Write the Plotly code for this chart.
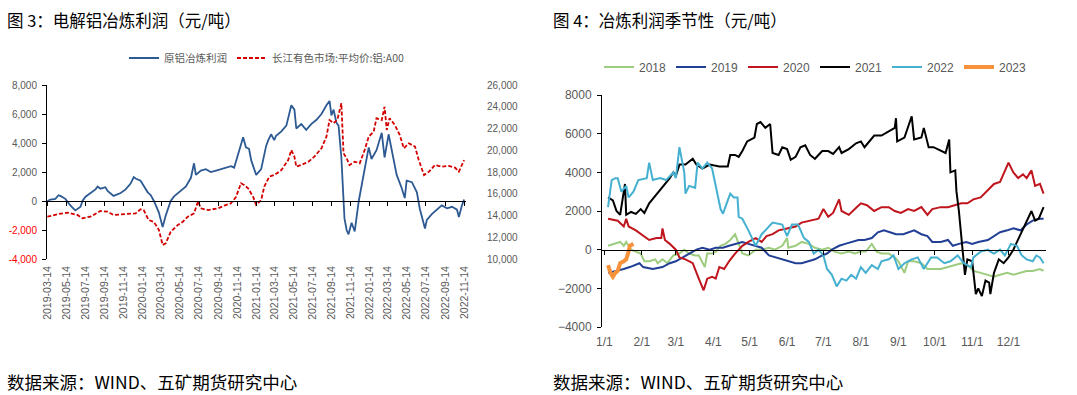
import plotly.graph_objects as go

W, H = 1077, 395
CJK = "Noto Sans CJK SC"
NUM = "Liberation Sans"
GRAY = "#595959"

# ---------------- Left chart data ----------------
profit_dates = [
    "2019-03-14", "2019-03-24", "2019-04-09", "2019-04-19", "2019-04-25", "2019-05-11", "2019-05-27", "2019-06-12",
    "2019-06-29", "2019-07-05", "2019-07-15", "2019-07-31", "2019-08-16", "2019-08-23", "2019-09-01", "2019-09-17",
    "2019-09-24", "2019-10-13", "2019-10-20", "2019-11-05", "2019-11-21", "2019-12-07", "2019-12-17", "2019-12-23",
    "2020-01-08", "2020-01-25", "2020-01-31", "2020-02-10", "2020-02-20", "2020-03-07", "2020-03-19", "2020-03-29",
    "2020-04-05", "2020-04-14", "2020-04-24", "2020-05-17", "2020-06-02", "2020-06-18", "2020-06-28", "2020-07-04",
    "2020-07-20", "2020-08-05", "2020-08-21", "2020-09-07", "2020-09-23", "2020-10-15", "2020-10-25", "2020-11-04",
    "2020-11-17", "2020-12-03", "2020-12-12", "2020-12-22", "2020-12-29", "2021-01-14", "2021-01-30", "2021-02-15",
    "2021-02-22", "2021-03-03", "2021-03-13", "2021-03-19", "2021-04-05", "2021-04-21", "2021-05-07", "2021-05-17",
    "2021-05-23", "2021-06-08", "2021-06-24", "2021-07-10", "2021-07-27", "2021-08-12", "2021-08-28", "2021-09-07",
    "2021-09-13", "2021-09-20", "2021-09-29", "2021-10-06", "2021-10-15", "2021-10-22", "2021-10-25", "2021-11-01",
    "2021-11-07", "2021-11-17", "2021-11-27", "2021-12-10", "2021-12-26", "2022-01-11", "2022-01-20", "2022-02-05",
    "2022-02-22", "2022-03-03", "2022-03-16", "2022-03-26", "2022-04-05", "2022-04-11", "2022-04-27", "2022-05-07",
    "2022-05-13", "2022-05-30", "2022-06-15", "2022-06-24", "2022-07-11", "2022-07-17", "2022-08-02", "2022-08-18",
    "2022-09-03", "2022-09-20", "2022-10-06", "2022-10-22", "2022-10-28", "2022-11-07", "2022-11-14",
]
profit_values = [
    0, 100, 150, 400, 350, 150, -300, -650,
    -400, 0, 300, 550, 800, 1000, 850, 950,
    700, 350, 400, 550, 800, 1200, 1650, 1550,
    1400, 800, 600, 400, 0, -800, -1800, -1000,
    -500, 0, 300, 700, 1000, 1600, 2600, 1800,
    2100, 2200, 2000, 2100, 2200, 2300, 2400, 2300,
    3200, 4400, 3700, 3600, 2800, 1800, 2200, 3800,
    4200, 4600, 4200, 4500, 4800, 5200, 6600, 6300,
    5000, 5300, 4900, 5300, 5600, 6000, 6600, 6900,
    5900, 6300, 5400, 5200, 3000, -300, -1200, -2000,
    -2300, -1500, -2100, 0, 2000, 3700, 2900, 3500,
    4700, 3000, 4600, 3600, 2500, 1800, 900, 200,
    1400, 1300, 600, -500, -1900, -1300, -900, -600,
    -300, -500, -400, -600, -1100, -300, 100,
]

price_dates = [
    "2019-03-14", "2019-04-19", "2019-05-18", "2019-06-19", "2019-07-05", "2019-07-31", "2019-09-01", "2019-09-24",
    "2019-10-13", "2019-11-27", "2019-12-23", "2020-01-08", "2020-01-18", "2020-02-03", "2020-02-20", "2020-03-07",
    "2020-03-19", "2020-03-29", "2020-04-14", "2020-05-07", "2020-05-23", "2020-06-08", "2020-06-28", "2020-07-11",
    "2020-07-20", "2020-08-12", "2020-09-13", "2020-10-03", "2020-10-25", "2020-11-10", "2020-11-26", "2020-12-06",
    "2020-12-19", "2021-01-04", "2021-01-14", "2021-01-30", "2021-02-09", "2021-02-25", "2021-03-13", "2021-04-05",
    "2021-04-27", "2021-05-07", "2021-05-17", "2021-05-23", "2021-06-08", "2021-07-01", "2021-07-20", "2021-08-12",
    "2021-08-28", "2021-09-07", "2021-09-20", "2021-10-02", "2021-10-15", "2021-10-22", "2021-11-01", "2021-11-10",
    "2021-11-27", "2021-12-13", "2021-12-29", "2022-01-11", "2022-01-27", "2022-02-05", "2022-02-22", "2022-03-03",
    "2022-03-10", "2022-03-19", "2022-04-05", "2022-04-21", "2022-05-04", "2022-05-20", "2022-06-09", "2022-06-21",
    "2022-07-08", "2022-07-24", "2022-08-12", "2022-09-03", "2022-09-26", "2022-10-16", "2022-10-28", "2022-11-14",
]
price_values = [
    13890, 14140, 14260, 14050, 13740, 13900, 14420, 14350,
    14050, 14150, 14200, 14570, 14500, 13590, 13400, 12670,
    11290, 11440, 12510, 13130, 13430, 13890, 14200, 15300,
    14660, 14500, 14660, 14900, 15120, 15700, 16960, 16800,
    16500, 15730, 14970, 15420, 16650, 17570, 17720, 18180,
    19100, 20020, 19410, 18490, 18640, 18950, 19410, 20180,
    21250, 22780, 22500, 22800, 24320, 19720, 19260, 18640,
    18950, 18800, 20020, 21250, 21710, 22940, 22780, 24000,
    21860, 22940, 22330, 21400, 20180, 20640, 20330, 19100,
    17720, 18030, 18640, 18490, 18560, 18400, 18030, 19100,
]

left_ticks = [
    "2019-03-14", "2019-05-14", "2019-07-14", "2019-09-14", "2019-11-14", "2020-01-14", "2020-03-14", "2020-05-14",
    "2020-07-14", "2020-09-14", "2020-11-14", "2021-01-14", "2021-03-14", "2021-05-14", "2021-07-14", "2021-09-14",
    "2021-11-14", "2022-01-14", "2022-03-14", "2022-05-14", "2022-07-14", "2022-09-14", "2022-11-14",
]
left_y_ticks = [-4000, -2000, 0, 2000, 4000, 6000, 8000]
left_y_text = ['<span style="color:#ff0000">-4,000</span>', '<span style="color:#ff0000">-2,000</span>',
               "0", "2,000", "4,000", "6,000", "8,000"]
right_axis_ticks = [10000, 12000, 14000, 16000, 18000, 20000, 22000, 24000, 26000]
right_axis_text = ["10,000", "12,000", "14,000", "16,000", "18,000", "20,000", "22,000", "24,000", "26,000"]

# ---------------- Right chart data (day of year) ----------------
d2018 = [3, 9, 13, 16, 18, 22, 26, 30, 33, 37, 42, 44, 48, 52, 57, 62, 66, 70, 75, 78,
         83, 85, 89, 92, 96, 100, 104, 108, 111, 114, 119, 125, 130, 136, 141, 147, 151, 152, 158, 163,
         169, 174, 180, 185, 190, 196, 202, 207, 212, 216, 221, 225, 229, 235, 240, 243, 248, 251, 256, 262,
         267, 272, 278, 284, 289, 295, 300, 305, 311, 317, 322, 327, 333, 338, 344, 349, 354, 360, 363]
v2018 = [200, 300, 400, 200, 400, 0, -100, -200, -600, -600, -500, -700, -500, -700, -300, -200, 0, -200, -300, -300,
         -900, -200, -200, -100, 200, 300, 500, 800, 300, -200, -300, 0, 0, 100, 0, 200, 600, 100, 200, 400,
         300, 100, 0, 100, -100, -200, -100, -200, -100, -100, 300, -100, -200, -200, -400, -600, -1200, -600, -600, -700,
         -1000, -1000, -1000, -900, -800, -700, -800, -1100, -1200, -1300, -1400, -1300, -1200, -1300, -1200, -1100, -1100, -1000, -1100]

d2019 = [3, 10, 16, 21, 26, 29, 32, 40, 48, 54, 59, 65, 70, 76, 81, 87, 92, 98, 103, 108,
         114, 119, 125, 130, 136, 141, 147, 152, 158, 163, 169, 174, 180, 184, 188, 194, 199, 204, 210, 215,
         221, 226, 231, 236, 241, 247, 252, 256, 262, 267, 271, 278, 284, 288, 293, 299, 304, 309, 317, 322,
         327, 333, 338, 344, 349, 354, 359, 363]
v2019 = [-1200, -1100, -1000, -900, -800, -700, -900, -1000, -900, -700, -600, -400, -200, 0, 100, 0, 100, 100, 200, 300,
         400, 300, 200, 100, -300, -400, -500, -600, -700, -700, -600, -500, -300, -200, 0, 200, 300, 400, 500, 500,
         600, 900, 1000, 900, 800, 800, 900, 1000, 800, 700, 400, 400, 500, 200, 300, 400, 300, 400, 500, 700,
         900, 1000, 1100, 1000, 1300, 1500, 1600, 1600]

d2020 = [3, 11, 16, 18, 20, 26, 37, 43, 47, 48, 50, 54, 59, 62, 67, 73, 78, 82, 85, 89,
         92, 95, 99, 103, 108, 114, 119, 125, 130, 134, 139, 144, 151, 158, 163, 169, 177, 181, 185, 189,
         194, 196, 202, 207, 212, 217, 223, 229, 235, 240, 245, 251, 256, 262, 267, 271, 278, 284, 289, 295,
         300, 305, 311, 317, 322, 327, 331, 334, 338, 342, 346, 349, 353, 356, 360, 363]
v2020 = [1600, 1500, 1200, 1600, 1200, 1000, 500, 600, 600, 1100, 500, 300, 0, -400, -500, -700, -1500, -2100, -1500, -1400,
         -1500, -900, -1000, -600, -200, 200, 400, 600, 400, 700, 800, 1000, 1100, 1200, 1400, 1500, 1600, 2100, 1700, 1900,
         2600, 2000, 1800, 2100, 2400, 2300, 2000, 2200, 2200, 2000, 1900, 2100, 2000, 2200, 1800, 2100, 2200, 2200, 2300, 2400,
         2400, 2600, 2700, 3100, 3400, 3500, 4100, 4500, 4000, 3700, 3900, 3700, 4100, 3300, 3400, 2900]

d2021 = [3, 7, 10, 13, 17, 18, 22, 26, 30, 33, 37, 54, 57, 59, 62, 67, 73, 76, 81, 87,
         95, 102, 104, 108, 111, 114, 118, 124, 126, 129, 133, 137, 139, 144, 147, 151, 154, 158, 162, 166,
         170, 174, 180, 185, 189, 194, 196, 202, 208, 212, 215, 219, 223, 229, 235, 240, 241, 242, 248, 251,
         254, 256, 262, 264, 268, 272, 278, 282, 285, 286, 290, 291, 293, 296, 298, 300, 304, 307, 309, 312,
         315, 318, 319, 322, 326, 330, 334, 338, 344, 349, 353, 356, 359, 363]
v2021 = [2700, 2550, 2000, 1800, 3400, 1800, 1950, 1850, 2100, 1900, 2400, 3700, 4000, 3800, 4400, 4400, 4700, 4400, 4200, 4400,
         4300, 4300, 4900, 4900, 4800, 5100, 5600, 5800, 6500, 6600, 6300, 6500, 5000, 4900, 5300, 5200, 4650, 4800, 5300, 5400,
         4900, 4700, 5100, 5100, 4950, 5300, 5000, 5200, 5500, 5600, 5300, 5600, 5900, 5900, 6100, 6300, 6800, 5600, 5800, 6300,
         6900, 5700, 5800, 6300, 5300, 5300, 5100, 5000, 5700, 4000, 4100, 3000, 2000, 0, -1300, -500, -600, -2300, -2000, -2400,
         -1600, -1700, -2300, -1200, -500, -700, -400, 0, 800, 1500, 2000, 1500, 1600, 2200]

d2022 = [3, 6, 9, 11, 14, 18, 20, 24, 28, 35, 37, 40, 46, 51, 57, 59, 62, 66, 67, 70,
         75, 77, 81, 85, 89, 92, 96, 98, 102, 104, 107, 110, 111, 114, 119, 125, 130, 133, 139, 147,
         151, 155, 160, 165, 169, 173, 177, 181, 184, 188, 192, 196, 200, 204, 208, 212, 216, 221, 226, 229,
         235, 239, 243, 248, 254, 259, 264, 270, 275, 281, 286, 292, 297, 303, 305, 311, 317, 319, 322, 327,
         331, 336, 341, 345, 349, 354, 357, 360, 363]
v2022 = [2200, 3600, 3700, 3700, 3000, 3300, 2700, 3000, 3600, 3700, 4500, 3600, 3700, 3600, 4000, 3700, 5300, 4000, 2900, 3300,
         3200, 4500, 4200, 4500, 4200, 3300, 2100, 1860, 2500, 2900, 2700, 2700, 1700, 1600, 1000, 200, 800, 1000, 1400, 1300,
         700, 1300, 1300, 600, 400, -200, 0, -300, -1000, -1300, -1900, -1500, -1600, -1300, -1500, -900, -1200, -800, -1000, -600,
         -500, -300, -1000, -700, -500, -400, -1000, -400, -400, -700, -600, -300, -700, -900, -400, -100, 0, -100, -200, 0,
         -300, 300, 200, -300, -500, -600, -300, -400, -700]

d2023 = [3, 5, 7, 9, 11, 13, 16, 18, 20, 21, 24]
v2023 = [-800, -1200, -1400, -1200, -1100, -700, -600, -500, -100, 200, 300]

season_ticks = [0, 31, 59, 90, 120, 151, 181, 212, 243, 273, 304, 334]
season_labels = ["1/1", "2/1", "3/1", "4/1", "5/1", "6/1", "7/1", "8/1", "9/1", "10/1", "11/1", "12/1"]
season_y_ticks = [-4000, -2000, 0, 2000, 4000, 6000, 8000]

# ---------------- layout geometry (pixels -> paper) ----------------
def fx(p):
    return p / W

def fy(p):
    return 1 - p / H

L_dom_x = [fx(47), fx(466)]
L_dom_y = [fy(259), fy(85)]
R_dom_x = [fx(602), fx(1046)]
R_dom_y = [fy(327), fy(95)]
L_range = [-4000, 8000]
R_range = [-4000, 8000]
L_zero = L_dom_y[0] + (0 - L_range[0]) / (L_range[1] - L_range[0]) * (L_dom_y[1] - L_dom_y[0])
R_zero = R_dom_y[0] + (0 - R_range[0]) / (R_range[1] - R_range[0]) * (R_dom_y[1] - R_dom_y[0])
L_xrange = ["2019-03-13", "2022-11-20"]
R_xrange = [-2, 365]

fig = go.Figure()

# Left chart traces
fig.add_trace(go.Scatter(x=profit_dates, y=profit_values, mode="lines", name="原铝冶炼利润",
                         line=dict(color="#2e5a94", width=1.8), xaxis="x", yaxis="y", legend="legend"))
fig.add_trace(go.Scatter(x=price_dates, y=price_values, mode="lines", name="长江有色市场:平均价:铝:A00",
                         line=dict(color="#d40000", width=1.8, dash="4px,2px"), xaxis="x", yaxis="y2", legend="legend"))
fig.add_trace(go.Scatter(x=[], y=[], xaxis="x3", yaxis="y", showlegend=False, hoverinfo="skip"))

# Right chart traces
season = [
    ("2018", d2018, v2018, "#9dcc7e", 2),
    ("2019", d2019, v2019, "#213f95", 2),
    ("2020", d2020, v2020, "#c0151d", 2),
    ("2021", d2021, v2021, "#000000", 2),
    ("2022", d2022, v2022, "#45b0d0", 2),
    ("2023", d2023, v2023, "#f7923a", 4),
]
for name, dd, vv, col, wd in season:
    fig.add_trace(go.Scatter(x=dd, y=vv, mode="lines", name=name, line=dict(color=col, width=wd),
                             xaxis="x2", yaxis="y3", legend="legend2"))
fig.add_trace(go.Scatter(x=[], y=[], xaxis="x4", yaxis="y3", showlegend=False, hoverinfo="skip"))

tickfont_l = dict(family=NUM, size=10, color=GRAY)
tickfont_r = dict(family=NUM, size=12, color=GRAY)

fig.update_layout(
    width=W, height=H, autosize=False,
    margin=dict(l=0, r=0, t=0, b=0),
    paper_bgcolor="white", plot_bgcolor="rgba(0,0,0,0)",
    showlegend=True,
    xaxis=dict(domain=L_dom_x, anchor="y", type="date", range=L_xrange,
               tickvals=left_ticks, ticktext=left_ticks, tickangle=-90,
               tickfont=dict(family=NUM, size=10.5, color=GRAY), ticks="", showline=False,
               showgrid=False, zeroline=False, ticklabelstandoff=4, automargin=False),
    xaxis3=dict(overlaying="x", anchor="free", position=L_zero, type="date", range=L_xrange,
                tickvals=left_ticks, showticklabels=False, ticks="outside", ticklen=4, tickcolor="black",
                showline=True, linecolor="black", linewidth=1, showgrid=False, zeroline=False),
    yaxis=dict(domain=L_dom_y, anchor="x", range=L_range, tickvals=left_y_ticks, ticktext=left_y_text,
               tickfont=tickfont_l, showline=True, linecolor="black", linewidth=1,
               ticks="outside", ticklen=4, tickcolor="black", showgrid=False, zeroline=False,
               ticklabelstandoff=3, automargin=False),
    yaxis2=dict(overlaying="y", side="right", anchor="x", range=[10000, 26000],
                tickvals=right_axis_ticks, ticktext=right_axis_text, tickfont=tickfont_l,
                showline=False, ticks="", showgrid=False, zeroline=False,
                ticklabelstandoff=20, automargin=False),
    xaxis2=dict(domain=R_dom_x, anchor="y3", range=R_xrange, tickvals=season_ticks, ticktext=season_labels,
                tickfont=tickfont_r, ticks="", showline=False, showgrid=False, zeroline=False,
                ticklabelstandoff=6, automargin=False),
    xaxis4=dict(overlaying="x2", anchor="free", position=R_zero, range=R_xrange, tickvals=season_ticks,
                showticklabels=False, ticks="outside", ticklen=4, tickcolor="black",
                showline=True, linecolor="black", linewidth=1, showgrid=False, zeroline=False),
    yaxis3=dict(domain=R_dom_y, anchor="x2", range=R_range, tickvals=season_y_ticks,
                tickfont=tickfont_r, showline=True, linecolor="black", linewidth=1,
                ticks="outside", ticklen=4, tickcolor="black", showgrid=False, zeroline=False,
                ticklabelstandoff=3, automargin=False),
    legend=dict(orientation="h", x=fx(124), y=fy(58), xanchor="left", yanchor="middle",
                font=dict(family=CJK, size=10.5, color=GRAY), bgcolor="rgba(0,0,0,0)",
                itemwidth=30, tracegroupgap=0),
    legend2=dict(orientation="h", x=fx(599), y=fy(67), xanchor="left", yanchor="middle",
                 font=dict(family=NUM, size=12, color=GRAY), bgcolor="rgba(0,0,0,0)",
                 itemwidth=30, entrywidth=27, entrywidthmode="pixels"),
)

ann = [
    dict(text="图 3：电解铝冶炼利润（元/吨）", x=fx(5), y=fy(20), size=16.5),
    dict(text="图 4：冶炼利润季节性（元/吨）", x=fx(551), y=fy(20), size=16.5),
    dict(text="数据来源：WIND、五矿期货研究中心", x=fx(5), y=fy(381), size=17.5),
    dict(text="数据来源：WIND、五矿期货研究中心", x=fx(551), y=fy(381), size=17.5),
]
for a in ann:
    fig.add_annotation(xref="paper", yref="paper", xanchor="left", yanchor="middle",
                       showarrow=False, text=a["text"], x=a["x"], y=a["y"],
                       font=dict(family=CJK, size=a["size"], color="black"))

fig.write_html("out.html", config={"displayModeBar": False},
               post_script="document.body.style.margin='0';")
